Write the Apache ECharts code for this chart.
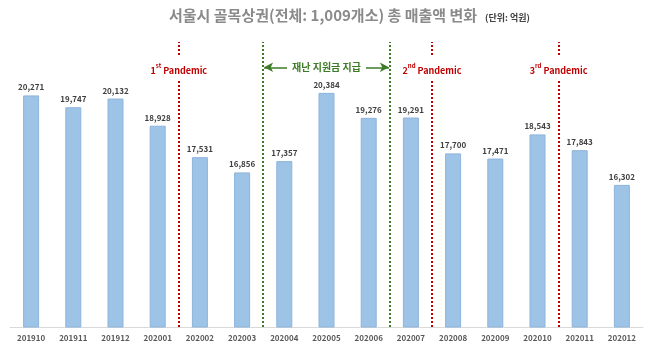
<!DOCTYPE html>
<html>
<head>
<meta charset="utf-8">
<script src="https://cdn.jsdelivr.net/npm/echarts@6/dist/echarts.min.js"></script>
<style>
  html, body { margin: 0; padding: 0; background: #ffffff; }
  #chart { width: 650px; height: 344px; }
</style>
</head>
<body>
<div id="chart"></div>
<script>
// Monthly total sales of Seoul alley commercial districts (unit: 100 million KRW)
const months = ['201910', '201911', '201912', '202001', '202002', '202003', '202004', '202005',
                '202006', '202007', '202008', '202009', '202010', '202011', '202012'];
const sales = [20271, 19747, 20132, 18928, 17531, 16856, 17357, 20384,
               19276, 19291, 17700, 17471, 18543, 17843, 16302];

// Event boundaries, expressed as positions between months (index + 0.5)
const pandemicWaves = [
  { at: 3.5, ord: '1', sup: 'st' },
  { at: 9.5, ord: '2', sup: 'nd' },
  { at: 12.5, ord: '3', sup: 'rd' }
];
const subsidyPeriod = [5.5, 8.5];
const subsidyText = '재난 지원금 지급';

const KR = '"Noto Sans CJK KR", "Noto Sans", sans-serif';
const RED = '#C00000';
const GREEN = '#3E7B27';
const annotY = 21520;

const chart = echarts.init(document.getElementById('chart'));

const option = {
  backgroundColor: '#ffffff',
  animation: false,
  title: [
    {
      text: '서울시 골목상권(전체: 1,009개소) 총 매출액 변화',
      left: 164, top: 3,
      textStyle: { fontFamily: KR, fontSize: 15, fontWeight: 'bold', color: '#8A8A8A' }
    },
    {
      text: '(단위: 억원)',
      left: 480, top: 8,
      textStyle: { fontFamily: KR, fontSize: 9, fontWeight: 'bold', color: '#404040' }
    }
  ],
  grid: { left: 10, right: 7, top: 42, bottom: 17 },
  xAxis: [
    {
      type: 'category',
      data: months,
      axisLine: { lineStyle: { color: '#D9D9D9', width: 1 } },
      axisTick: { show: false },
      axisLabel: { fontFamily: KR, fontSize: 8, fontWeight: 'bold', color: '#595959', margin: 7 }
    },
    {
      type: 'value', min: -0.5, max: 14.5, show: false
    }
  ],
  yAxis: { type: 'value', min: 10000, max: 22640, show: false, splitLine: { show: false } },
  series: [
    {
      type: 'bar',
      data: sales,
      barWidth: 16,
      itemStyle: { color: '#9DC3E6', borderColor: '#8DB4DC', borderWidth: 1 },
      label: {
        show: true, position: 'top', distance: 4,
        fontFamily: KR, fontSize: 8, fontWeight: 'bold', color: '#404040',
        formatter: p => p.value.toLocaleString('en-US')
      }
    },
    {
      // vertical dotted event lines
      type: 'scatter', xAxisIndex: 1, data: [], z: 3,
      markLine: {
        silent: true, symbol: ['none', 'none'], label: { show: false },
        data: [
          ...pandemicWaves.map(w => ({
            xAxis: w.at, lineStyle: { color: RED, width: 2, type: [2, 2] }
          })),
          ...subsidyPeriod.map(x => ({
            xAxis: x, lineStyle: { color: GREEN, width: 2, type: [2, 2] }
          }))
        ]
      }
    },
    {
      // subsidy period double arrow
      type: 'scatter', xAxisIndex: 1, data: [], z: 4,
      markLine: {
        silent: true,
        symbol: ['arrow', 'arrow'], symbolSize: [7, 9],
        lineStyle: { color: GREEN, width: 1.5, type: 'solid' },
        label: { show: false },
        data: [[
          { coord: [subsidyPeriod[0] + 0.02, annotY] },
          { coord: [subsidyPeriod[1] - 0.02, annotY] }
        ]]
      }
    },
    {
      // text labels sitting on top of the lines
      type: 'scatter', xAxisIndex: 1, data: [], z: 6,
      markPoint: {
        silent: true, symbol: 'rect', symbolSize: 1,
        itemStyle: { color: 'rgba(0,0,0,0)' },
        label: {
          show: true, position: 'inside',
          backgroundColor: '#ffffff',
          rich: {
            n: { fontFamily: KR, fontSize: 9, fontWeight: 'bold', color: RED, lineHeight: 12, verticalAlign: 'bottom' },
            s: { fontFamily: KR, fontSize: 6, fontWeight: 'bold', color: RED, lineHeight: 12, verticalAlign: 'top' },
            g: { fontFamily: KR, fontSize: 10, fontWeight: 'bold', color: GREEN, lineHeight: 13 }
          },
          formatter: p => p.data.kind === 'wave'
            ? '{n|' + p.data.ord + '}{s|' + p.data.sup + '}{n| Pandemic}'
            : '{g|' + p.data.text + '}'
        },
        data: [
          ...pandemicWaves.map(w => ({
            coord: [w.at, annotY - 80], kind: 'wave', ord: w.ord, sup: w.sup,
            label: { padding: [6, 2] }
          })),
          {
            coord: [(subsidyPeriod[0] + subsidyPeriod[1]) / 2, annotY],
            kind: 'subsidy', text: subsidyText,
            label: { padding: [1, 5] }
          }
        ]
      }
    }
  ]
};

chart.setOption(option);
</script>
</body>
</html>
